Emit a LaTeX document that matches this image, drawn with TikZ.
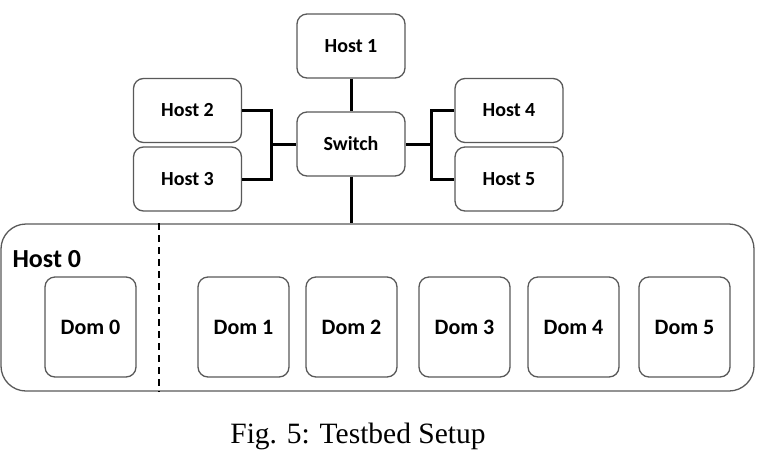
\documentclass[tikz,border=0pt]{standalone}
\usepackage{fontspec}
\setmainfont{Liberation Serif}
\newfontfamily\calibri{Carlito}
\usetikzlibrary{calc}

\begin{document}
\begin{tikzpicture}[x=1pt,y=-1pt,
    box/.style={draw=black!65, line width=1.3pt, rounded corners=10pt, fill=white,
        font=\calibri\bfseries\fontsize{20}{22}\selectfont,
        minimum width=108pt, minimum height=64pt, inner sep=0pt},
    dom/.style={box, minimum width=91pt, minimum height=100pt,
        font=\calibri\bfseries\fontsize{22}{24}\selectfont},
    wire/.style={line width=3pt}]
    \useasboundingbox (0,0) rectangle (757,456);
    \node[draw=black!65, line width=1.3pt, rounded corners=25pt, minimum width=753pt,
        minimum height=167pt, inner sep=0pt] (host0) at (377.5,307.5) {};
    \node[anchor=base west, font=\calibri\bfseries\fontsize{26}{30}\selectfont]
        (host0label) at (9,267) {Host 0};
    \node[box] (host1) at (351,46) {Host 1};
    \node[box] (switch) at (351,144) {Switch};
    \node[box] (host2) at (187.5,110.5) {Host 2};
    \node[box] (host3) at (187.5,179) {Host 3};
    \node[box] (host4) at (509,110.5) {Host 4};
    \node[box] (host5) at (509,179) {Host 5};
    \node[dom] (dom0) at (90.5,327) {Dom 0};
    \node[dom] (dom1) at (243.5,327) {Dom 1};
    \node[dom] (dom2) at (351.5,327) {Dom 2};
    \node[dom] (dom3) at (464.5,327) {Dom 3};
    \node[dom] (dom4) at (573.5,327) {Dom 4};
    \node[dom] (dom5) at (684.5,327) {Dom 5};
    \coordinate (lj) at (271,144);
    \coordinate (rj) at (431,144);
    \coordinate (sep) at (159,0);
    \draw[wire] (host1) -- (switch);
    \draw[wire] (host2.east) -| (lj) |- (host3.east);
    \draw[wire] (lj) -- (switch.west);
    \draw[wire] (host4.west) -| (rj) |- (host5.west);
    \draw[wire] (rj) -- (switch.east);
    \draw[wire] (switch.south) -- (switch.south |- host0.north);
    \draw[line width=1.6pt, dash pattern=on 7pt off 5pt] (sep |- host0.north) -- (sep |- host0.south);
    \node[anchor=base, font=\fontsize{29.5}{33}\selectfont] (caption) at (358,443) {Fig. 5: Testbed Setup};
\end{tikzpicture}
\end{document}
